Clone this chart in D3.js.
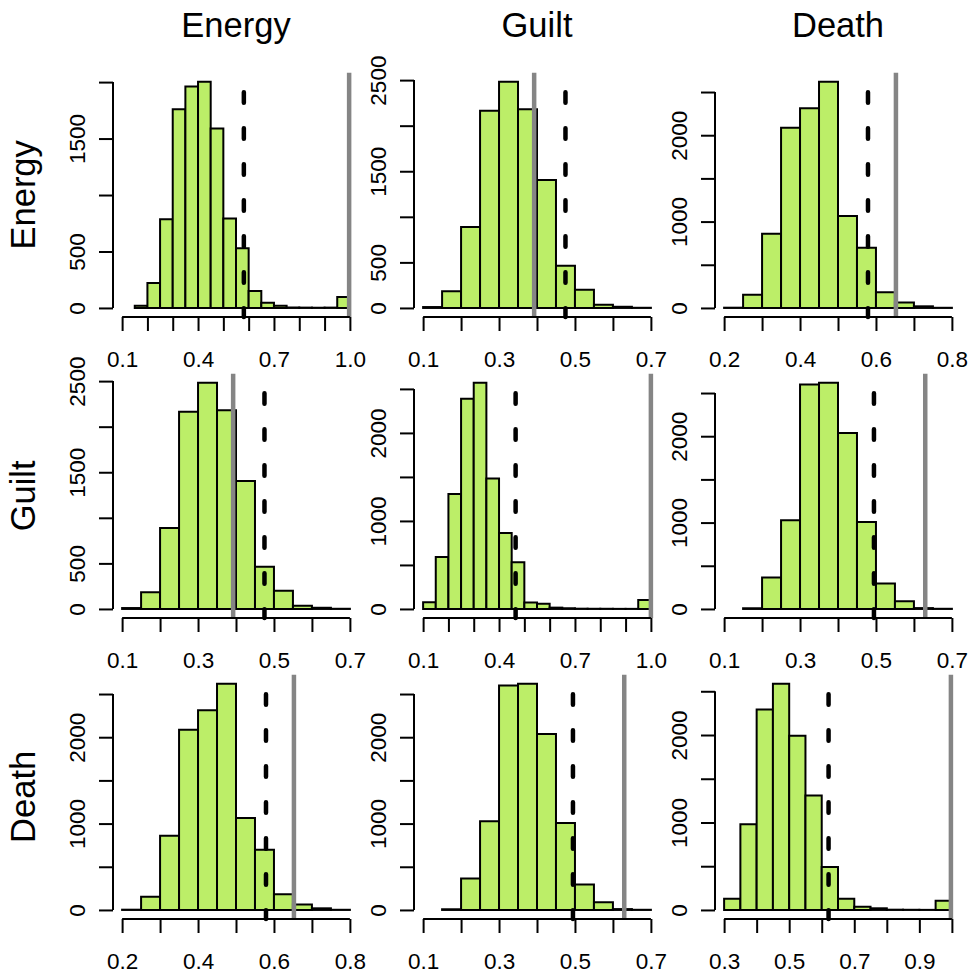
<!DOCTYPE html>
<html>
<head>
<meta charset="utf-8">
<script src="https://cdn.jsdelivr.net/npm/d3@7"></script>
<style>
  body { margin: 0; background: #fff; }
  svg { display: block; font-family: "Liberation Sans", Arial, sans-serif; }
</style>
</head>
<body>
<script>
// variable names for rows / columns
const varNames = ["Energy", "Guilt", "Death"];

// histogram counts, bins of width 0.05
const binWidth = 0.05;
const eeStart = 0.15;
const eeCounts = [20, 220, 785, 1759, 1962, 2003, 1588, 791, 529, 150, 47, 20, 4, 3, 2, 3, 97];
const egStart = 0.10;
const egCounts = [10, 183, 888, 2163, 2482, 2181, 1403, 464, 201, 35, 13, 2];
const edStart = 0.20;
const edCounts = [3, 154, 858, 2085, 2312, 2619, 1065, 696, 181, 62, 19, 2];
const ggStart = 0.10;
const ggCounts = [75, 589, 1306, 2389, 2570, 1483, 864, 532, 72, 60, 15, 8, 3, 2, 2, 1, 1, 102];
const gdStart = 0.15;
const gdCounts = [8, 365, 1027, 2600, 2619, 2038, 1008, 296, 88, 10, 2];
const ddStart = 0.30;
const ddCounts = [129, 981, 2293, 2586, 1992, 1308, 490, 129, 38, 19, 3, 2, 1, 106];

// dashed (black) and solid (grey) reference lines
const eeLines = [0.581, 0.997];
const egLines = [0.475, 0.3925];
const edLines = [0.579, 0.6526];
const ggLines = [0.4655, 1.0];
const gdLines = [0.4947, 0.6298];
const ddLines = [0.621, 0.997];

// x axis ranges and labelled ticks
const eeXRange = [0.1, 1.0], eeXLabels = [0.1, 0.4, 0.7, 1.0];
const egXRange = [0.1, 0.7], egXLabels = [0.1, 0.3, 0.5, 0.7];
const edXRange = [0.2, 0.8], edXLabels = [0.2, 0.4, 0.6, 0.8];
const ggXRange = [0.1, 1.0], ggXLabels = [0.1, 0.4, 0.7, 1.0];
const gdXRange = [0.1, 0.7], gdXLabels = [0.1, 0.3, 0.5, 0.7];
const ddXRange = [0.3, 1.0], ddXLabels = [0.3, 0.5, 0.7, 0.9];

// y axis ticks and which of them carry a label
const eeYTicks = [0, 500, 1000, 1500, 2000], eeYLabels = [0, 500, 1500];
const egYTicks = [0, 500, 1000, 1500, 2000, 2500], egYLabels = [0, 500, 1500, 2500];
const edYTicks = [0, 500, 1000, 1500, 2000, 2500], edYLabels = [0, 1000, 2000];
const ggYTicks = [0, 500, 1000, 1500, 2000, 2500], ggYLabels = [0, 1000, 2000];
const gdYTicks = [0, 500, 1000, 1500, 2000, 2500], gdYLabels = [0, 1000, 2000];
const ddYTicks = [0, 500, 1000, 1500, 2000, 2500], ddYLabels = [0, 1000, 2000];

const hists = {
  ee: {start: eeStart, counts: eeCounts, lines: eeLines, xr: eeXRange, xl: eeXLabels, yt: eeYTicks, yl: eeYLabels},
  eg: {start: egStart, counts: egCounts, lines: egLines, xr: egXRange, xl: egXLabels, yt: egYTicks, yl: egYLabels},
  ed: {start: edStart, counts: edCounts, lines: edLines, xr: edXRange, xl: edXLabels, yt: edYTicks, yl: edYLabels},
  gg: {start: ggStart, counts: ggCounts, lines: ggLines, xr: ggXRange, xl: ggXLabels, yt: ggYTicks, yl: ggYLabels},
  gd: {start: gdStart, counts: gdCounts, lines: gdLines, xr: gdXRange, xl: gdXLabels, yt: gdYTicks, yl: gdYLabels},
  dd: {start: ddStart, counts: ddCounts, lines: ddLines, xr: ddXRange, xl: ddXLabels, yt: ddYTicks, yl: ddYLabels}
};
// the grid is symmetric
const grid = [
  ["ee", "eg", "ed"],
  ["eg", "gg", "gd"],
  ["ed", "gd", "dd"]
];

// layout
const W = 969, H = 975;
const outerLeft = 66, outerTop = 72, cell = 301;
const plotLeft = 47, plotTop = 0.7, plotW = 246, plotH = 244.3;
const fontAxis = 22.5, fontTitle = 34.5;

const svg = d3.select("body").append("svg")
  .attr("width", W)
  .attr("height", H);

grid.forEach((row, r) => {
  row.forEach((key, c) => {
    const h = hists[key];
    const gx = outerLeft + c * cell + plotLeft,
          gy = outerTop + r * cell + plotTop;
    const g = svg.append("g").attr("transform", `translate(${gx},${gy})`);

    const span = h.xr[1] - h.xr[0];
    const x = d3.scaleLinear()
      .domain([h.xr[0] - 0.04 * span, h.xr[1] + 0.04 * span])
      .range([0, plotW]);
    const M = d3.max(h.counts);
    const y = d3.scaleLinear()
      .domain([-0.04 * M, 1.04 * M])
      .range([plotH, 0]);

    // bars (paths so that empty bins still show as a flat line)
    g.selectAll("path.bar")
      .data(h.counts)
      .join("path")
      .attr("class", "bar")
      .attr("d", (d, i) => {
        const x0 = x(h.start + i * binWidth), x1 = x(h.start + (i + 1) * binWidth);
        return `M${x0},${y(0)}V${y(d)}H${x1}V${y(0)}Z`;
      })
      .attr("fill", "#BCEE68")
      .attr("stroke", "#000")
      .attr("stroke-width", 2)
      .attr("stroke-linejoin", "miter");

    // dashed line
    g.append("line")
      .attr("x1", x(h.lines[0])).attr("x2", x(h.lines[0]))
      .attr("y1", 0).attr("y2", plotH)
      .attr("stroke", "#000")
      .attr("stroke-width", 4.5)
      .attr("stroke-linecap", "round")
      .attr("stroke-dasharray", "10.5 25.5")
      .attr("stroke-dashoffset", 16.5);

    // grey solid line
    g.append("line")
      .attr("x1", x(h.lines[1])).attr("x2", x(h.lines[1]))
      .attr("y1", 0).attr("y2", plotH)
      .attr("stroke", "#858585")
      .attr("stroke-width", 4.5);

    // x axis
    const xTicks = d3.range(Math.round(h.xr[0] * 10), Math.round(h.xr[1] * 10) + 1).map(v => v / 10);
    const xLabelSet = new Set(h.xl.map(v => v.toFixed(1)));
    const xAxis = g.append("g")
      .attr("transform", `translate(0,${plotH})`)
      .call(d3.axisBottom(x)
        .tickValues(xTicks)
        .tickSize(14)
        .tickFormat(v => xLabelSet.has(v.toFixed(1)) ? v.toFixed(1) : ""));
    xAxis.select(".domain").remove();
    xAxis.append("line")
      .attr("x1", x(xTicks[0])).attr("x2", x(xTicks[xTicks.length - 1]))
      .attr("stroke", "#000");
    xAxis.selectAll("line").attr("stroke-width", 2).attr("stroke", "#000");
    xAxis.selectAll("text")
      .attr("y", 50).attr("dy", null)
      .attr("font-size", fontAxis)
      .attr("font-family", "Liberation Sans, Arial, sans-serif")
      .attr("fill", "#000");

    // y axis
    const yLabelSet = new Set(h.yl);
    const yAxis = g.append("g")
      .call(d3.axisLeft(y)
        .tickValues(h.yt)
        .tickSize(14)
        .tickFormat(v => yLabelSet.has(v) ? String(v) : ""));
    yAxis.select(".domain").remove();
    yAxis.append("line")
      .attr("y1", y(h.yt[0])).attr("y2", y(h.yt[h.yt.length - 1]))
      .attr("stroke", "#000");
    yAxis.selectAll("line").attr("stroke-width", 2).attr("stroke", "#000");
    yAxis.selectAll("text")
      .attr("x", null).attr("dy", null)
      .attr("transform", "translate(-28,0) rotate(-90)")
      .attr("text-anchor", "middle")
      .attr("font-size", fontAxis)
      .attr("font-family", "Liberation Sans, Arial, sans-serif")
      .attr("fill", "#000");

    // column title and row label
    if (r === 0) {
      svg.append("text")
        .attr("x", gx + plotW / 2)
        .attr("y", 36.7)
        .attr("text-anchor", "middle")
        .attr("font-size", fontTitle)
        .text(varNames[c]);
    }
    if (c === 0) {
      svg.append("text")
        .attr("transform", `translate(35,${gy + plotH / 2}) rotate(-90)`)
        .attr("text-anchor", "middle")
        .attr("font-size", fontTitle)
        .text(varNames[r]);
    }
  });
});
</script>
</body>
</html>
